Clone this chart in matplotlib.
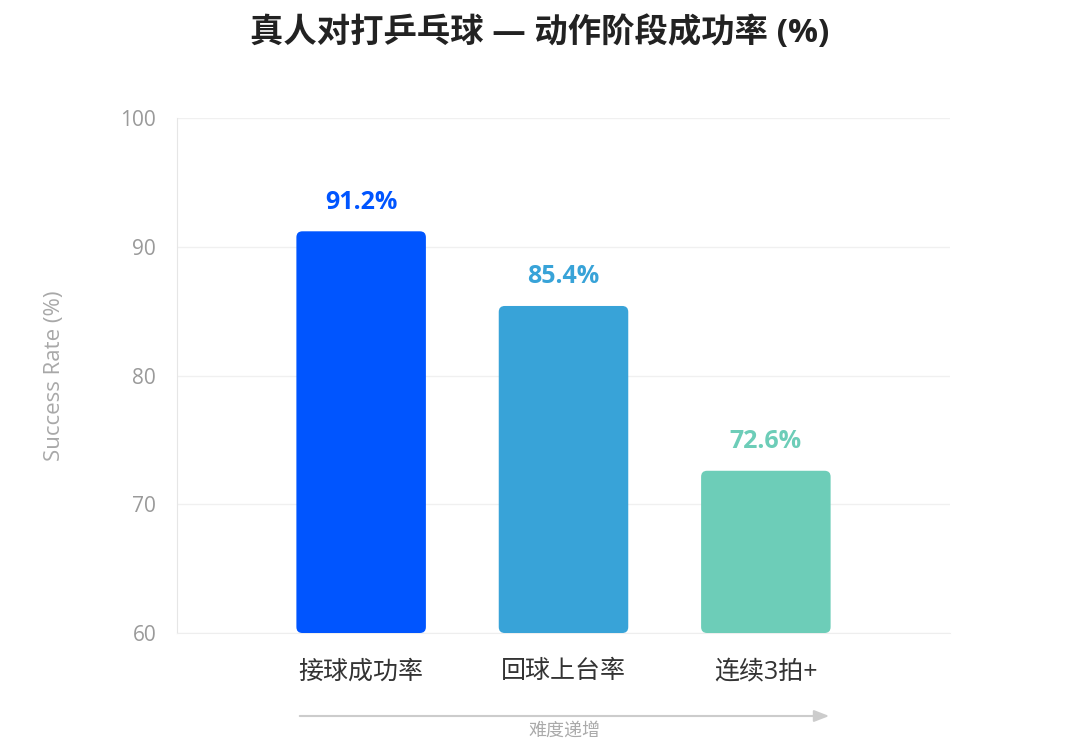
import matplotlib
matplotlib.use("Agg")
import matplotlib.pyplot as plt
from matplotlib.patches import FancyBboxPatch

plt.rcParams['font.family'] = ['Open Sans', 'Noto Sans CJK SC', 'DejaVu Sans']

categories = ["接球成功率", "回球上台率", "连续3拍+"]
values = [91.2, 85.4, 72.6]
colors = ["#0055FF", "#38A3D8", "#6DCDB8"]
yticks = [60, 70, 80, 90, 100]
title = "真人对打乒乓球 — 动作阶段成功率 (%)"
ylabel = "Success Rate (%)"
arrow_label = "难度递增"

fig = plt.figure(figsize=(10.8, 7.44), dpi=100)
ax = fig.add_axes([177/1080, 1 - 633/744, (950-177)/1080, (633-118)/744])
ax.set_xlim(-0.91, 2.91)
ax.set_ylim(60, 100)

width = 0.64
base = 60
bars = ax.bar(range(len(values)), [v - base for v in values], bottom=base,
              width=width, color=colors)
# replace with rounded bars
px_x = (950-177) / (2.91 + 0.91)
px_y = (633-118) / 40.0
r = 6.0
for b, c in zip(bars, colors):
    b.set_visible(False)
    x0, y0 = b.get_x(), b.get_y()
    w, h = b.get_width(), b.get_height()
    p = FancyBboxPatch((x0, y0), w, h,
                       boxstyle=f"round,pad=0,rounding_size={r/px_x}",
                       mutation_aspect=px_x/px_y,
                       facecolor=c, edgecolor='none', zorder=3)
    ax.add_patch(p)

for i, (v, c) in enumerate(zip(values, colors)):
    ax.text(i, v + 1.3, f"{v:.1f}%", ha='center', va='bottom', color=c,
            fontsize=18, fontweight='bold')

ax.set_yticks(yticks)
ax.set_yticklabels([str(t) for t in yticks], color="#9a9a9a", fontsize=15)
ax.set_xticks(range(len(categories)))
ax.set_xticklabels(categories, fontsize=18, color="#333333")
ax.tick_params(axis='both', length=0)
ax.tick_params(axis='y', pad=15)
ax.tick_params(axis='x', pad=19)
ax.grid(axis='y', color="#f0f0f0", linewidth=1)
ax.set_axisbelow(True)
for s in ['top', 'right']:
    ax.spines[s].set_visible(False)
ax.spines['left'].set_color("#e6e6e6")
ax.spines['bottom'].set_color("#eeeeee")

ax.set_ylabel(ylabel, color="#a8a8a8", fontsize=16, labelpad=40)

fig.text(0.5, 1 - 33/744, title, ha='center', va='center', fontsize=24,
         fontweight='bold', color="#222222")

# difficulty arrow
y_arrow = 1 - 716/744
ax.annotate("", xy=(832/1080, y_arrow), xytext=(297/1080, y_arrow),
            xycoords='figure fraction', textcoords='figure fraction',
            arrowprops=dict(arrowstyle='-|>,head_length=0.9,head_width=0.35',
                            color="#cccccc", lw=1.5))
fig.text(564/1080, 1 - 731/744, arrow_label, ha='center', va='center',
         fontsize=13, color="#aaaaaa")

fig.savefig("out.png", dpi=100)
